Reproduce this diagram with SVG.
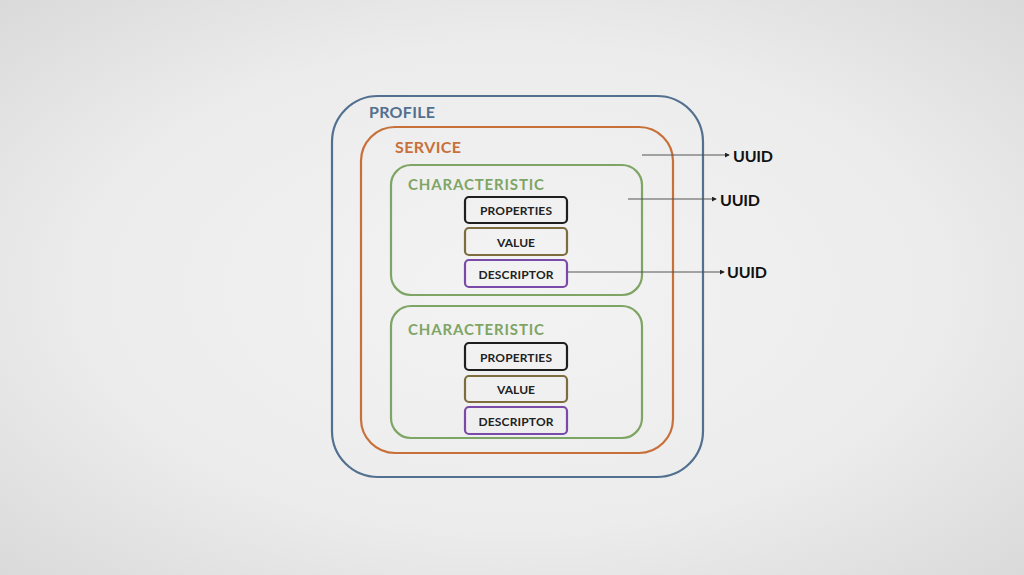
<svg xmlns="http://www.w3.org/2000/svg" width="1024" height="575" viewBox="0 0 1024 575">
<defs>
<radialGradient id="bg" cx="50%" cy="50%" r="70%">
<stop offset="0" stop-color="#f3f3f3"/>
<stop offset="0.6" stop-color="#ececec"/>
<stop offset="1" stop-color="#dadada"/>
</radialGradient>
<marker id="arr" viewBox="0 0 6 6" refX="5" refY="3" markerWidth="5" markerHeight="5" orient="auto" markerUnits="userSpaceOnUse">
<path d="M0,0 L6,3 L0,6 Z" fill="#222"/>
</marker>
<style>
.box{fill:none;stroke-width:2.2}
.lbl{font-family:Lato,"Liberation Sans",sans-serif;font-weight:bold}
.in{font-family:Lato,"Liberation Sans",sans-serif;font-weight:bold;font-size:12px;fill:#222;text-anchor:middle}
.uuid{font-family:Lato,"Liberation Sans",sans-serif;font-weight:bold;font-size:16px;fill:#111}
.conn{stroke:#555;stroke-width:1;fill:none}
</style>
</defs>
<rect width="1024" height="575" fill="url(#bg)"/>
<g id="profile">
<rect class="box" x="332" y="96" width="371" height="381" rx="46" stroke="#52708f"/>
<text class="lbl" x="369" y="118" font-size="16" fill="#52708f" textLength="66">PROFILE</text>
</g>
<g id="service">
<rect class="box" x="361" y="127" width="312" height="326" rx="34" stroke="#c8703a"/>
<text class="lbl" x="395" y="153" font-size="16" fill="#c8703a" textLength="66">SERVICE</text>
</g>
<g id="char1">
<rect class="box" x="391" y="165" width="251" height="130" rx="20" stroke="#7ea565"/>
<text class="lbl" x="408" y="190" font-size="15" fill="#7ea565" textLength="136">CHARACTERISTIC</text>
</g>
<g id="props1">
<rect class="box" x="465" y="197" width="102" height="26" rx="4" stroke="#1e1e1e"/>
<text class="in" x="516" y="215" textLength="72">PROPERTIES</text>
</g>
<g id="value1">
<rect class="box" x="465" y="228" width="102" height="27" rx="4" stroke="#7d6d3e"/>
<text class="in" x="516" y="246.5" textLength="38">VALUE</text>
</g>
<g id="desc1">
<rect class="box" x="465" y="260" width="102" height="27" rx="4" stroke="#7a4aa8"/>
<text class="in" x="516" y="278.5" textLength="75">DESCRIPTOR</text>
</g>
<g id="char2">
<rect class="box" x="391" y="306" width="251" height="132" rx="20" stroke="#7ea565"/>
<text class="lbl" x="408" y="335" font-size="15" fill="#7ea565" textLength="136">CHARACTERISTIC</text>
</g>
<g id="props2">
<rect class="box" x="465" y="343" width="102" height="27" rx="4" stroke="#1e1e1e"/>
<text class="in" x="516" y="361.5" textLength="72">PROPERTIES</text>
</g>
<g id="value2">
<rect class="box" x="465" y="376" width="102" height="26" rx="4" stroke="#7d6d3e"/>
<text class="in" x="516" y="394" textLength="38">VALUE</text>
</g>
<g id="desc2">
<rect class="box" x="465" y="407" width="102" height="27" rx="4" stroke="#7a4aa8"/>
<text class="in" x="516" y="425.5" textLength="75">DESCRIPTOR</text>
</g>
<g id="uuid-labels">
<text class="uuid" x="733" y="162" textLength="40">UUID</text>
<text class="uuid" x="720" y="206" textLength="40">UUID</text>
<text class="uuid" x="727" y="278" textLength="40">UUID</text>
</g>
<g id="connectors">
<line class="conn" x1="642" y1="155" x2="729" y2="155" marker-end="url(#arr)"/>
<line class="conn" x1="628" y1="199" x2="716" y2="199" marker-end="url(#arr)"/>
<line class="conn" x1="567" y1="272" x2="724" y2="272" marker-end="url(#arr)"/>
</g>
</svg>
